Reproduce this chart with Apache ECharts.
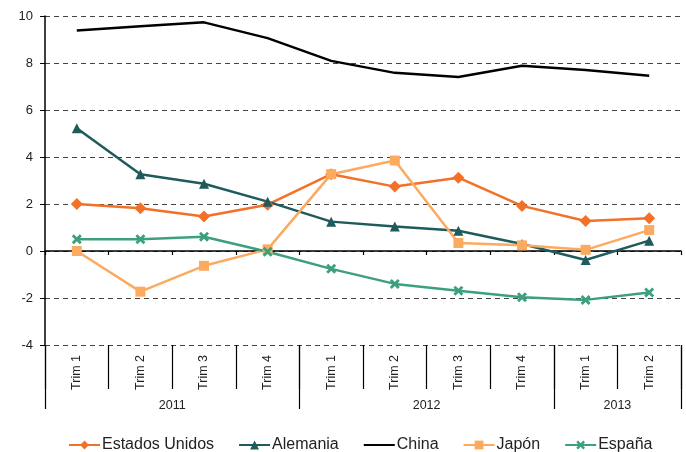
<!DOCTYPE html>
<html>
<head>
<meta charset="utf-8">
<script src="https://cdn.jsdelivr.net/npm/echarts@6/dist/echarts.min.js"></script>
<style>
  html, body { margin: 0; padding: 0; background: #fff; }
  #chart { width: 686px; height: 452px; }
</style>
</head>
<body>
<div id="chart"></div>
<script>
(function() {
    'use strict';

    var trimestres = ['Trim 1', 'Trim 2', 'Trim 3', 'Trim 4', 'Trim 1', 'Trim 2', 'Trim 3', 'Trim 4', 'Trim 1', 'Trim 2'];
    var anios = ['2011', '2012', '2013'];
    var anioInicio = [0, 4, 8, 10];   // limites de cada año, en trimestres
    var anioCentro = [2, 6, 9];

    var estadosUnidos = [2.0, 1.82, 1.47, 1.97, 3.27, 2.74, 3.12, 1.92, 1.28, 1.39];
    var alemania = [5.22, 3.27, 2.86, 2.1, 1.25, 1.04, 0.86, 0.3, -0.38, 0.44];
    var china = [9.38, 9.56, 9.73, 9.06, 8.09, 7.58, 7.4, 7.88, 7.7, 7.46];
    var japon = [0.0, -1.73, -0.63, 0.07, 3.27, 3.85, 0.34, 0.24, 0.05, 0.89];
    var espana = [0.5, 0.5, 0.61, -0.03, -0.76, -1.4, -1.69, -1.97, -2.08, -1.77];

    var yTicks = { min: -4, max: 10, interval: 2 };

    var cruz = 'path://M0,2L2,0L5,3L8,0L10,2L7,5L10,8L8,10L5,7L2,10L0,8L3,5Z';
    var fuente = '"Liberation Sans", Arial, sans-serif';

    function serie(name, data, color, symbol, size) {
        return {
            name: name,
            type: 'line',
            xAxisIndex: 0,
            data: data,
            symbol: symbol,
            symbolSize: size,
            showSymbol: symbol !== 'none',
            lineStyle: { color: color, width: 2.5 },
            itemStyle: { color: color },
            emphasis: { disabled: true },
            z: 3
        };
    }

    var option = {
        animation: false,
        textStyle: { fontFamily: fuente, color: '#222' },
        grid: { left: 45, right: 5, top: 16, bottom: 107, containLabel: false },
        legend: {
            left: 63,
            top: 432,
            itemWidth: 31,
            itemHeight: 11,
            itemGap: 24,
            textStyle: { fontSize: 16, color: '#222', fontFamily: fuente, padding: [0, 0, 0, -3] },
            data: [
                'Estados Unidos',
                'Alemania',
                { name: 'China', itemStyle: { opacity: 0 } },
                'Japón',
                'España'
            ]
        },
        xAxis: [{
            // linea del cero
            type: 'category',
            data: trimestres,
            boundaryGap: true,
            position: 'bottom',
            axisLine: { onZero: true, lineStyle: { color: '#000', width: 1.5 } },
            axisTick: { show: true, length: 4, lineStyle: { color: '#000', width: 1.2 } },
            axisLabel: { show: false },
            splitLine: { show: false }
        }, {
            // trimestres
            type: 'category',
            data: trimestres,
            boundaryGap: true,
            position: 'bottom',
            axisLine: { show: false, onZero: false },
            axisTick: { show: true, length: 44, lineStyle: { color: '#000', width: 1.2 } },
            axisLabel: { rotate: 90, margin: 10, fontSize: 12.5, color: '#222', fontFamily: fuente },
            splitLine: { show: false }
        }, {
            // años
            type: 'value',
            min: 0,
            max: 10,
            position: 'bottom',
            axisLine: { show: false, onZero: false },
            axisTick: { show: true, length: 64, customValues: anioInicio, lineStyle: { color: '#000', width: 1.2 } },
            axisLabel: {
                customValues: anioCentro,
                margin: 54,
                fontSize: 12.5,
                color: '#222',
                fontFamily: fuente,
                formatter: function(v) { return anios[anioCentro.indexOf(v)]; }
            },
            splitLine: { show: false }
        }],
        yAxis: {
            type: 'value',
            min: yTicks.min,
            max: yTicks.max,
            interval: yTicks.interval,
            axisLine: { show: true, lineStyle: { color: '#000', width: 1.5 } },
            axisTick: { show: true, length: 5, lineStyle: { color: '#000' } },
            axisLabel: { fontSize: 13, margin: 12, color: '#222', fontFamily: fuente },
            splitLine: { show: true, lineStyle: { color: '#444', type: [5, 4], width: 1 } }
        },
        series: [
            serie('Estados Unidos', estadosUnidos, '#F37027', 'diamond', 12),
            serie('Alemania', alemania, '#1E5B5A', 'triangle', 10),
            serie('China', china, '#000000', 'none', 0),
            serie('Japón', japon, '#FCAA60', 'rect', 10),
            serie('España', espana, '#3BA07B', cruz, 10)
        ]
    };

    var chart = echarts.init(document.getElementById('chart'));
    chart.setOption(option);
})();
</script>
</body>
</html>
